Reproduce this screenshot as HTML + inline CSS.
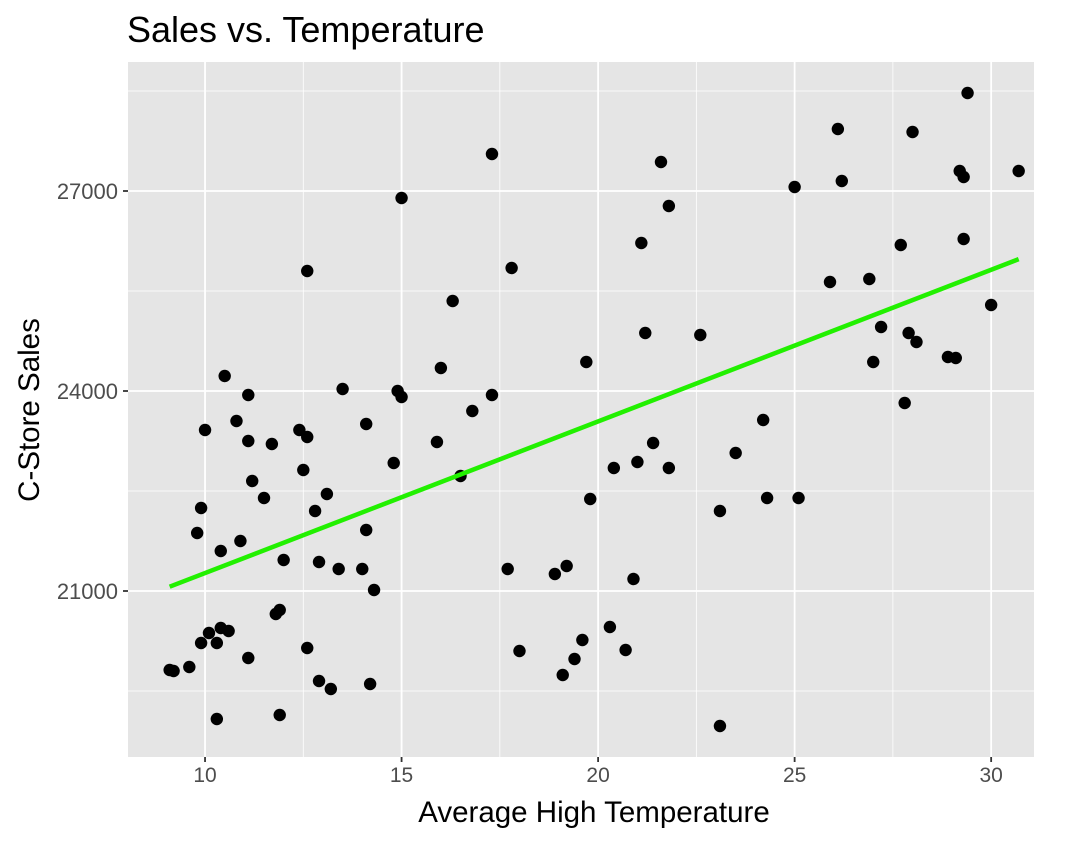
<!DOCTYPE html>
<html><head><meta charset="utf-8"><style>
body{margin:0;background:#fff;}
svg{display:block;font-family:"Liberation Sans",Arial,sans-serif;}
</style></head><body>
<svg id="chart" width="1076" height="842">
<text x="127" y="42" font-size="36" fill="#000">Sales vs. Temperature</text>
<rect x="128" y="62" width="906" height="695" fill="#e5e5e5"/>
<g id="grid"></g><g id="axes"></g><g id="marks"></g>
<text x="594" y="822" font-size="29.5" text-anchor="middle" fill="#000">Average High Temperature</text>
<text transform="translate(39,410) rotate(-90)" font-size="29.5" text-anchor="middle" fill="#000">C-Store Sales</text>
</svg>
<script>
const temps=[9.1,9.2,9.6,9.8,9.9,9.9,10.0,10.1,10.3,10.4,10.4,10.3,10.5,10.6,10.8,10.9,11.1,11.1,11.1,11.2,11.5,11.7,12.0,11.8,11.9,11.9,12.4,12.5,12.6,12.6,12.6,12.8,12.9,12.9,13.1,13.2,13.4,13.5,14.0,14.1,14.1,14.2,14.3,14.8,14.9,15.0,15.0,15.9,16.0,16.3,16.5,16.8,17.3,17.3,17.7,17.8,18.0,18.9,19.2,19.1,19.4,19.6,19.7,19.8,20.3,20.4,20.7,20.9,21.0,21.1,21.2,21.4,21.6,21.8,21.8,22.6,23.1,23.1,23.5,24.2,24.3,25.1,25.0,25.9,26.1,26.2,26.9,27.0,27.2,27.7,27.8,27.9,28.0,28.1,28.9,29.1,29.2,29.3,29.3,29.4,30.0,30.7];
const sales=[19815,19800,19860,21870,22245,20220,23415,20370,20220,21600,20445,19080,24225,20400,23550,21750,23940,23250,19995,22650,22395,23205,21465,20655,20715,19140,23415,22815,23310,20145,25800,22200,21435,19650,22455,19530,21330,24030,21330,21915,23505,19605,21015,22920,24000,26895,23910,23235,24345,25350,22725,23700,23940,27555,21330,25845,20100,21255,21375,19740,19980,20265,24435,22380,20460,22845,20115,21180,22935,26220,24870,23220,27435,22845,26775,24840,22200,18975,23070,23565,22395,22395,27060,25635,27930,27150,25680,24435,24960,26190,23820,24870,27885,24735,24510,24495,27300,27210,26280,28470,25290,27300];
const xTicks=[10,15,20,25,30];
const xMinor=[7.5,12.5,17.5,22.5,27.5];
const yTicks=[21000,24000,27000];
const yMinor=[19500,22500,25500,28500];
const yTickLabels=["21000","24000","27000"];

const L=128,R=1034,T=62,B=757,xmin=8.04,xmax=31.09,ymin=18510,ymax=28935;
const sx=v=>L+(v-xmin)/(xmax-xmin)*(R-L);
const sy=v=>B-(v-ymin)/(ymax-ymin)*(B-T);
const NS="http://www.w3.org/2000/svg";
function mk(tag,attrs,parent){const e=document.createElementNS(NS,tag);for(const k in attrs)e.setAttribute(k,attrs[k]);parent.appendChild(e);return e;}
const grid=document.getElementById('grid'),axes=document.getElementById('axes'),marks=document.getElementById('marks');
xMinor.forEach(v=>{const x=sx(v);if(x<L||x>R)return;const l=mk('line',{x1:x,x2:x,y1:T,y2:B,stroke:'#fff','stroke-width':0.8},grid);

});
yMinor.forEach(v=>{const y=sy(v);if(y<T||y>B)return;const l=mk('line',{x1:L,x2:R,y1:y,y2:y,stroke:'#fff','stroke-width':0.8},grid);

});
xTicks.forEach(v=>{const x=sx(v);const l=mk('line',{x1:x,x2:x,y1:T,y2:B,stroke:'#fff','stroke-width':1.8},grid);


const t=mk('line',{x1:x,x2:x,y1:B,y2:B+5,stroke:'#333','stroke-width':1.8},axes);


const tx=mk('text',{x:x,y:B+25,'font-size':21,'text-anchor':'middle',fill:'#4d4d4d'},axes);tx.textContent=v;

});
yTicks.forEach((v,i)=>{const y=sy(v);const l=mk('line',{x1:L,x2:R,y1:y,y2:y,stroke:'#fff','stroke-width':1.8},grid);


const t=mk('line',{x1:L-5,x2:L,y1:y,y2:y,stroke:'#333','stroke-width':1.8},axes);


const tx=mk('text',{x:L-10,y:y+8,'font-size':22,'text-anchor':'end',fill:'#4d4d4d'},axes);tx.textContent=yTickLabels[i];

});
temps.forEach((v,i)=>{const c=mk('circle',{cx:sx(v),cy:sy(sales[i]),r:6.2,fill:'#000'},marks);

});
const n=temps.length,mx=temps.reduce((a,b)=>a+b)/n,my=sales.reduce((a,b)=>a+b)/n;
let sxy=0,sxx=0;temps.forEach((v,i)=>{sxy+=(v-mx)*(sales[i]-my);sxx+=(v-mx)*(v-mx);});
const b=sxy/sxx,a=my-b*mx,x0=Math.min(...temps),x1=Math.max(...temps);
const fl=mk('line',{x1:sx(x0),y1:sy(a+b*x0),x2:sx(x1),y2:sy(a+b*x1),stroke:'#22f000','stroke-width':4.5},marks);


</script>
</body></html>
